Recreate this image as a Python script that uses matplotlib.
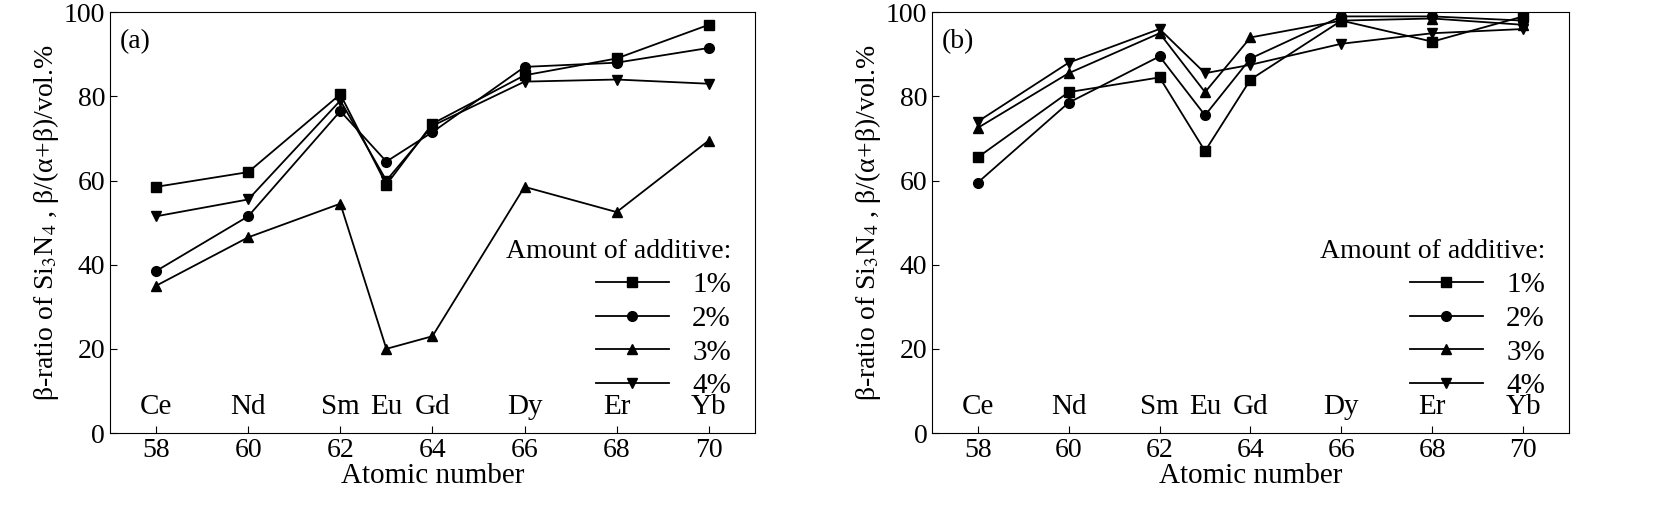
import matplotlib
matplotlib.use('Agg')
import matplotlib.pyplot as plt

plt.rcParams['font.family'] = ['Liberation Serif', 'DejaVu Serif']
plt.rcParams['mathtext.fontset'] = 'stix'

atomic = [58, 60, 62, 63, 64, 66, 68, 70]
elements = ['Ce', 'Nd', 'Sm', 'Eu', 'Gd', 'Dy', 'Er', 'Yb']
labels = ['1%', '2%', '3%', '4%']
markers = ['s', 'o', '^', 'v']

a_vals = [
    [58.5, 62, 80.5, 59, 73.5, 85, 89, 97],
    [38.5, 51.5, 76.5, 64.5, 71.5, 87, 88, 91.5],
    [35, 46.5, 54.5, 20, 23, 58.5, 52.5, 69.5],
    [51.5, 55.5, 79, 60, 73, 83.5, 84, 83],
]
b_vals = [
    [65.5, 81, 84.5, 67, 84, 98, 93, 99],
    [59.5, 78.5, 89.5, 75.5, 89, 99, 99, 98],
    [72.5, 85.5, 95, 81, 94, 98, 98.5, 97],
    [74, 88, 96, 85.5, 87.5, 92.5, 95, 96],
]

fig = plt.figure(figsize=(16.53, 5.3), dpi=100)
ax1 = fig.add_axes([0.0666, 0.183, 0.390, 0.794])
ax2 = fig.add_axes([0.564, 0.183, 0.385, 0.794])

for ax, vals, tag in [(ax1, a_vals, '(a)'), (ax2, b_vals, '(b)')]:
    for v, m, lab in zip(vals, markers, labels):
        ax.plot(atomic, v, color='black', marker=m, markersize=7, linewidth=1.3, label=lab)
    ax.set_xlim(57, 71)
    ax.set_ylim(0, 100)
    ax.set_xticks([58, 60, 62, 64, 66, 68, 70])
    ax.set_yticks([0, 20, 40, 60, 80, 100])
    ax.tick_params(labelsize=20, direction='in', length=5)
    for x, e in zip(atomic, elements):
        ax.text(x, 3, e, ha='center', va='bottom', fontsize=21)
    ax.text(57.2, 96, tag, fontsize=20, va='top')
    ax.set_xlabel('Atomic number', fontsize=21, labelpad=0)
    ax.set_ylabel(r'β-ratio of Si$_3$N$_4$ , β/(α+β)/vol.%', fontsize=20, labelpad=2)
    leg = ax.legend(loc='center right', bbox_to_anchor=(0.995, 0.27), frameon=False, fontsize=21,
                    title='Amount of additive:', title_fontsize=20, handlelength=2.5,
                    labelspacing=0.25, borderpad=0.2)
    leg._legend_box.align = 'right'

fig.savefig('out.png', dpi=100)
